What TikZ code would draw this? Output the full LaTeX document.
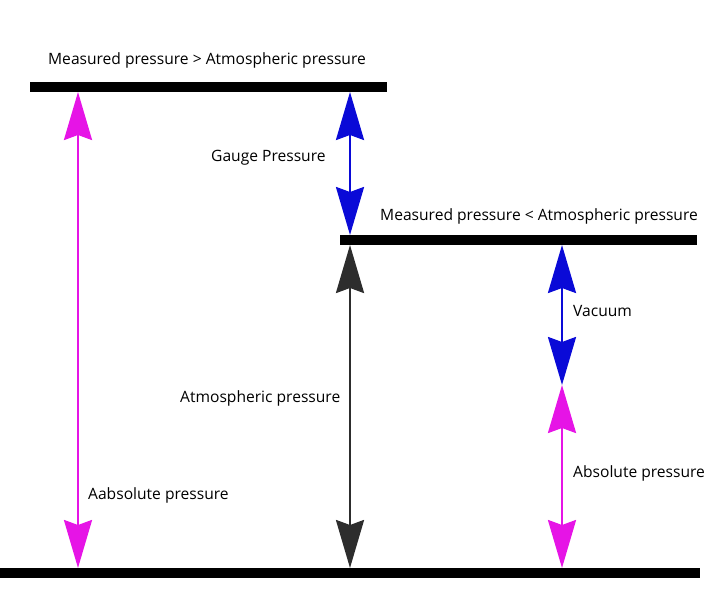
\documentclass[tikz,border=0pt]{standalone}
\usepackage{fontspec}
\setmainfont{Open Sans}
\usetikzlibrary{arrows.meta}
\definecolor{mag}{RGB}{230,20,230}
\definecolor{blu}{RGB}{10,10,215}
\definecolor{drk}{RGB}{45,45,45}
\begin{document}
\begin{tikzpicture}[x=1pt,y=-1pt,
  bar/.style={line width=10pt,black},
  dbl/.style={line width=2.5pt,{Stealth[length=48pt,width=28pt,inset=5pt]}-{Stealth[length=48pt,width=28pt,inset=5pt]}},
  lbl/.style={font=\fontsize{15.6}{18}\selectfont,inner sep=0pt}]
\useasboundingbox (0,0) rectangle (720,608);
\coordinate (t1) at (30,87); \coordinate (t2) at (387,87);
\coordinate (m1) at (340,240); \coordinate (m2) at (697,240);
\coordinate (b1) at (0,573); \coordinate (b2) at (700,573);
\draw[bar] (t1) -- (t2);
\draw[bar] (m1) -- (m2);
\draw[bar] (b1) -- (b2);
\coordinate (a1) at (78,92); \coordinate (a2) at (78,568);
\coordinate (g1) at (350,92); \coordinate (g2) at (350,235);
\coordinate (k1) at (350,245); \coordinate (k2) at (350,568);
\coordinate (v1) at (562,245); \coordinate (v2) at (562,385);
\coordinate (p2) at (562,568);
\draw[dbl,mag] (a1) -- (a2);
\draw[dbl,blu] (g1) -- (g2);
\draw[dbl,drk] (k1) -- (k2);
\draw[dbl,blu] (v1) -- (v2);
\draw[dbl,mag] (v2) -- (p2);
\node[lbl] (l1) at (207,60) {Measured pressure > Atmospheric pressure};
\node[lbl,anchor=west] (l2) at (211,158) {Gauge Pressure};
\node[lbl,anchor=west] (l3) at (380,216) {Measured pressure < Atmospheric pressure};
\node[lbl,anchor=west] (l4) at (573,311) {Vacuum};
\node[lbl,anchor=west] (l5) at (180,398) {Atmospheric pressure};
\node[lbl,anchor=west] (l6) at (88,495) {Aabsolute pressure};
\node[lbl,anchor=west] (l7) at (573,473) {Absolute pressure};
\end{tikzpicture}
\end{document}
